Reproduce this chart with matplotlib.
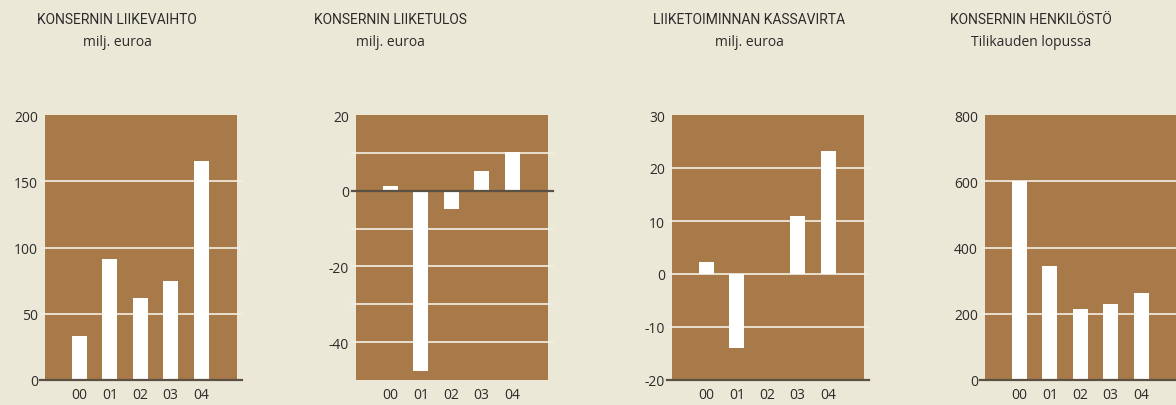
import matplotlib.pyplot as plt
import matplotlib.transforms as mtransforms

plt.rcParams['axes.unicode_minus'] = False

# vuodet ja sarjat
years = ['00', '01', '02', '03', '04']
liikevaihto = [33, 91, 62, 75, 165]
liiketulos = [1.2, -47.7, -4.7, 5.3, 10.2]
kassavirta = [2.3, -13.9, 0, 10.9, 23.2]
henkilosto = [600, 345, 215, 230, 264]

titles = ['KONSERNIN LIIKEVAIHTO', 'KONSERNIN LIIKETULOS',
          'LIIKETOIMINNAN KASSAVIRTA', 'KONSERNIN HENKILÖSTÖ']
subtitles = ['milj. euroa', 'milj. euroa', 'milj. euroa', 'Tilikauden lopussa']

BG = '#ece8d7'
BROWN = '#a87a49'
GRID = '#f4efe4'
DARK = '#5b5044'
TXT = '#2b2b2b'

W, H = 1176, 406
fig = plt.figure(figsize=(W / 100, H / 100), dpi=100, facecolor=BG)

panels = [
    # data, ylim, yticks, white lines, dark line, axes left px, title centre px
    (liikevaihto, (0, 200), [0, 50, 100, 150, 200], [50, 100, 150], 0, 45, 117),
    (liiketulos, (-50, 20), [-40, -20, 0, 20], [10, -10, -20, -30, -40], 0, 356, 390),
    (kassavirta, (-20, 30), [-20, -10, 0, 10, 20, 30], [20, 10, 0, -10], -20, 672, 749),
    (henkilosto, (0, 800), [0, 200, 400, 600, 800], [200, 400, 600], 0, 985, 1031),
]

x = list(range(len(years)))
for i, (vals, ylim, yticks, grid, base, left, tc) in enumerate(panels):
    ax = fig.add_axes([left / W, 25 / H, 192 / W, 265 / H])
    ax.set_facecolor(BROWN)
    ax.set_xlim(-1.13, 5.18)
    ax.set_ylim(*ylim)
    for s in ax.spines.values():
        s.set_visible(False)

    trans = mtransforms.blended_transform_factory(ax.transAxes, ax.transData)
    for g in grid:
        ax.plot([-4 / 192, 1 + 5 / 192], [g, g], color=GRID, lw=1.2,
                transform=trans, clip_on=False, zorder=1)
    ax.bar(x, vals, width=0.49, color='white', zorder=2)
    xl = -4 / 192 if ylim[0] != base else -5 / 192
    ax.plot([xl, 1 + 5 / 192], [base, base], color=DARK, lw=1.6,
            transform=trans, clip_on=False, zorder=3)

    ax.set_xticks(x)
    ax.set_xticklabels(years)
    ax.set_yticks(yticks)
    ax.tick_params(axis='both', length=0, labelsize=10, colors=TXT)
    ax.tick_params(axis='x', pad=5)
    ax.tick_params(axis='y', pad=5)
    for lab in ax.get_xticklabels() + ax.get_yticklabels():
        lab.set_family(['Open Sans', 'DejaVu Sans'])

    fig.text(tc / W, 1 - 20 / H, titles[i], ha='center', va='center',
             fontsize=10, color=TXT, family=['Roboto', 'DejaVu Sans'])
    fig.text(tc / W, 1 - 43 / H, subtitles[i], ha='center', va='center',
             fontsize=10, color=TXT, family=['Open Sans', 'DejaVu Sans'])

plt.savefig('out.png', dpi=100, facecolor=BG)
